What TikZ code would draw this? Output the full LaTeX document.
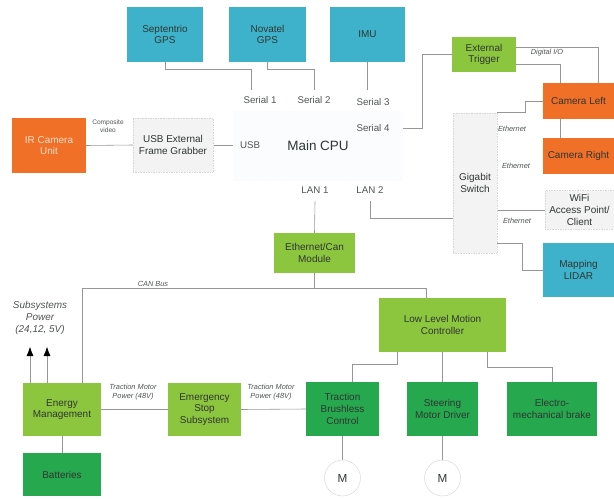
\documentclass[tikz,border=0pt]{standalone}
\usepackage{fontspec}
\setmainfont{Liberation Sans}
\usetikzlibrary{arrows.meta,backgrounds}

\definecolor{sensorcol}{RGB}{62,178,202}
\definecolor{cameracol}{RGB}{240,112,40}
\definecolor{ctrlcol}{RGB}{140,198,63}
\definecolor{drivecol}{RGB}{38,168,78}
\definecolor{ghostcol}{RGB}{243,243,243}
\definecolor{ghostedge}{RGB}{215,215,215}
\definecolor{cpucol}{RGB}{250,252,253}
\definecolor{textcol}{RGB}{48,54,50}
\definecolor{linecol}{RGB}{150,150,150}
\definecolor{ircol}{RGB}{252,222,200}

\tikzstyle{box} = [rectangle, text centered, align=center, text=textcol, font=\fontsize{8.5}{10}\selectfont]
\tikzstyle{sensor} = [box, fill=sensorcol]
\tikzstyle{camera} = [box, fill=cameracol]
\tikzstyle{ctrl} = [box, fill=ctrlcol]
\tikzstyle{drive} = [box, fill=drivecol]
\tikzstyle{ghost} = [box, fill=ghostcol, draw=ghostedge, densely dotted]
\tikzstyle{port} = [inner sep=1pt, text=textcol!85, font=\fontsize{8.3}{10}\selectfont]
\tikzstyle{note} = [align=center, inner sep=1pt, text=textcol!85, font=\fontsize{6.3}{7.5}\selectfont\itshape]
\tikzstyle{motor} = [circle, minimum size=1.08cm, draw=ghostedge, fill=white, text=textcol, font=\fontsize{10}{12}\selectfont]
\tikzstyle{link} = [draw=linecol, line width=0.5pt]

\begin{document}
\begin{tikzpicture}[x=0.03cm, y=-0.03cm]
\useasboundingbox (0,0) rectangle (614,498);

%Main CPU and ports
\node (cpu) [box, fill=cpucol, minimum width=5.1cm, minimum height=2.1cm, font=\fontsize{11.5}{13}\selectfont] at (318,146) {Main CPU};
\node (ser1) [port] at (260,100) {Serial 1};
\node (ser2) [port] at (314,100) {Serial 2};
\node (ser3) [port] at (373,102) {Serial 3};
\node (ser4) [port] at (373,128) {Serial 4};
\node (usb) [port] at (250,145) {USB};
\node (lan1) [port] at (315,190) {LAN 1};
\node (lan2) [port] at (370,190) {LAN 2};

%Sensors
\node (sept) [sensor, minimum width=2.28cm, minimum height=1.65cm] at (165,34.5) {Septentrio\\GPS};
\node (nova) [sensor, minimum width=2.31cm, minimum height=1.65cm] at (267.5,34.5) {Novatel\\GPS};
\node (imu) [sensor, minimum width=2.25cm, minimum height=1.65cm] at (367.5,34.5) {IMU};
\node (lidar) [sensor, minimum width=2.13cm, minimum height=1.62cm] at (578.5,270) {Mapping\\LIDAR};

%Cameras
\node (ir) [camera, minimum width=2.22cm, minimum height=1.65cm, text=ircol] at (49,145.5) {IR Camera\\Unit};
\node (fg) [ghost, minimum width=2.4cm, minimum height=1.62cm] at (173,145) {USB External\\Frame Grabber};
\node (trig) [ctrl, minimum width=1.92cm, minimum height=1.05cm] at (484,54.5) {External\\Trigger};
\node (caml) [camera, minimum width=2.13cm, minimum height=1.08cm] at (578.5,101) {Camera Left};
\node (camr) [camera, minimum width=2.13cm, minimum height=1.08cm] at (578.5,156) {Camera Right};

%Network
\node (sw) [ghost, minimum width=1.32cm, minimum height=4.2cm] at (475,183) {Gigabit\\Switch};
\node (wifi) [ghost, minimum width=2.07cm, minimum height=1.14cm] at (579.5,210) {WiFi\\Access Point/\\Client};
\node (mod) [ctrl, minimum width=2.43cm, minimum height=1.2cm] at (314.5,253) {Ethernet/Can\\Module};

%Motion and power
\node (llmc) [ctrl, minimum width=3.81cm, minimum height=1.62cm] at (442.5,325) {Low Level Motion\\Controller};
\node (em) [ctrl, minimum width=2.34cm, minimum height=1.59cm] at (62,409.5) {Energy\\Management};
\node (es) [ctrl, minimum width=2.19cm, minimum height=1.59cm] at (204.5,409.5) {Emergency\\Stop\\Subsystem};
\node (tb) [drive, minimum width=2.19cm, minimum height=1.62cm] at (342.5,409) {Traction\\Brushless\\Control};
\node (smd) [drive, minimum width=2.13cm, minimum height=1.62cm] at (442.5,409) {Steering\\Motor Driver};
\node (brake) [drive, minimum width=2.7cm, minimum height=1.62cm] at (552,409) {Electro-\\mechanical brake};
\node (bat) [drive, minimum width=2.34cm, minimum height=1.29cm] at (62,474.5) {Batteries};
\node (m1) [motor] at (342.5,478) {M};
\node (m2) [motor] at (442.5,478) {M};

%Labels
\node (compvid) [note, font=\fontsize{5.6}{6.6}\selectfont] at (108,126) {Composite\\video};
\node (dio) [note] at (547,53) {Digital I/O};
\node (eth1) [note] at (512,129) {Ethernet};
\node (eth2) [note] at (516,166) {Ethernet};
\node (eth3) [note] at (517,221) {Ethernet};
\node (canbus) [note] at (153,284) {CAN Bus};
\node (tmp1) [note] at (133,392) {Traction Motor\\Power (48V)};
\node (tmp2) [note] at (271,392) {Traction Motor\\Power (48V)};
\node (subpow) [note, font=\fontsize{8.5}{10.5}\selectfont\itshape] at (40,318) {Subsystems\\Power\\(24,12, 5V)};

%Arrows
\begin{scope}[on background layer]
\draw [link] (sept.south) -- ++(0,7) -| ([xshift=-0.27cm,yshift=0.15cm]ser1.north);
\draw [link] (nova.south) -- ++(0,7) -| ([yshift=0.15cm]ser2.north);
\draw [link] (imu.south) -- ++(0,28);
\draw [link] (ser4.east) -- (422,128) |- (trig.west);
\draw [link] ([yshift=0.22cm]trig.east) -| ([xshift=0.6cm]caml.north);
\draw [link] ([yshift=-0.3cm]trig.east) -| ([xshift=-0.55cm]camr.north);
\draw [link] (ir.east) -- (fg.west);
\draw [link] (fg.east) -- (usb.west);
\draw [link] (sw.north east) -- ++(28,0) |- (caml.west);
\draw [link] (wifi.west -| sw.east) -- (wifi.west);
\draw [link] ([yshift=-1.8cm]sw.east) -- ++(25,0) |- (lidar.west);
\draw [link] ([yshift=-0.2cm]lan2.south) |- ([yshift=-1.05cm]sw.west);
\draw [link] ([yshift=-0.2cm]lan1.south) -- (mod.north);
\draw [link] (mod.south) -- ++(0,15) coordinate (can);
\draw [link] (can) -| ([xshift=0.6cm]em.north);
\draw [link] (can) -| ([xshift=-0.5cm]llmc.north);
\draw [link] (em.east) -- (es.west);
\draw [link] (es.east) -- (tb.west);
\draw [link] (em.south) -- (bat.north);
\draw [link] ([xshift=-1.37cm]llmc.south) -- ++(0,12) -| ([xshift=0.3cm]tb.north);
\draw [link] (llmc.south) -- (smd.north);
\draw [link] ([xshift=1.34cm]llmc.south) -- ++(0,15) -| (brake.north);
\draw [link] (tb.south) -- (m1.north);
\draw [link] (smd.south) -- (m2.north);
\draw [link, -{Latex[length=8pt,width=6pt,color=black]}] ([xshift=-0.96cm]em.north) -- ++(0,-36);
\draw [link, -{Latex[length=8pt,width=6pt,color=black]}] ([xshift=-0.45cm]em.north) -- ++(0,-36);
\end{scope}

\end{tikzpicture}
\end{document}
